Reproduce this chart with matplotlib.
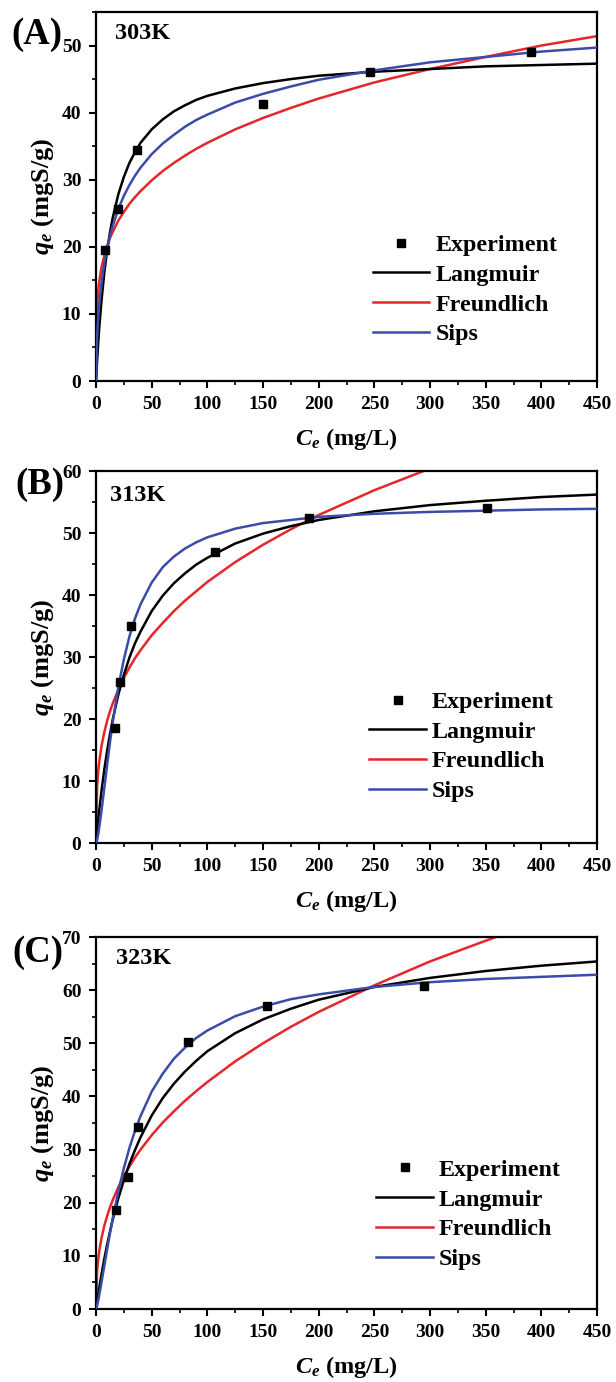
import matplotlib
matplotlib.use("Agg")
import matplotlib.pyplot as plt
from matplotlib.lines import Line2D
from matplotlib.ticker import MultipleLocator

plt.rcParams['font.family'] = ['Liberation Serif', 'DejaVu Serif']
plt.rcParams['font.weight'] = 'bold'
plt.rcParams['mathtext.fontset'] = 'custom'
plt.rcParams['mathtext.rm'] = 'Liberation Serif:bold'
plt.rcParams['mathtext.it'] = 'Liberation Serif:italic:bold'
plt.rcParams['mathtext.bf'] = 'Liberation Serif:bold'

# ---------------- data ----------------
panels = ['(A)', '(B)', '(C)']
temps = ['303K', '313K', '323K']
y_max = [55, 60, 70]
series_names = ['Experiment', 'Langmuir', 'Freundlich', 'Sips']

# Experimental points
exp_x_A = [8.5, 20.2, 37.0, 150.0, 246.0, 390.5]
exp_y_A = [19.6, 25.7, 34.4, 41.3, 46.0, 49.0]
exp_x_B = [17.0, 21.8, 31.5, 107.2, 191.7, 351.0]
exp_y_B = [18.5, 25.9, 35.0, 46.9, 52.4, 54.1]
exp_x_C = [17.8, 28.5, 37.5, 82.7, 154.0, 294.6]
exp_y_C = [18.6, 24.9, 34.2, 50.3, 57.0, 60.8]

# Fitted curves
curve_x = [0, 1, 2, 3, 5, 7.5, 10, 12.5, 15, 20, 25, 30, 35, 40, 50, 60, 70, 80, 90,
           100, 125, 150, 175, 200, 250, 300, 350, 400, 450]

lang_A = [0, 3.0, 5.7, 8.1, 12.1, 16.2, 19.4, 22.1, 24.3, 27.8, 30.4, 32.5, 34.1, 35.5,
          37.5, 39.0, 40.2, 41.1, 41.9, 42.5, 43.6, 44.4, 45.0, 45.5, 46.1, 46.5, 46.9, 47.1, 47.3]
freu_A = [0, 11.4, 13.5, 14.9, 17.0, 18.7, 20.1, 21.3, 22.2, 23.9, 25.2, 26.4, 27.4, 28.3,
          29.9, 31.3, 32.5, 33.6, 34.6, 35.5, 37.5, 39.2, 40.7, 42.1, 44.5, 46.5, 48.3, 50.0, 51.4]
sips_A = [0, 6.6, 9.5, 11.6, 14.7, 17.6, 19.8, 21.6, 23.1, 25.6, 27.6, 29.2, 30.6, 31.8,
          33.8, 35.4, 36.7, 37.9, 38.9, 39.7, 41.5, 42.8, 43.9, 44.9, 46.3, 47.5, 48.3, 49.1, 49.7]

lang_B = [0, 1.9, 3.7, 5.4, 8.5, 11.9, 14.9, 17.5, 19.9, 23.9, 27.1, 29.9, 32.2, 34.1,
          37.4, 39.9, 41.9, 43.5, 44.9, 46.0, 48.3, 49.9, 51.1, 52.1, 53.5, 54.5, 55.2, 55.8, 56.2]
freu_B = [0, 9.2, 11.6, 13.2, 15.7, 17.9, 19.7, 21.2, 22.5, 24.7, 26.6, 28.3, 29.8, 31.1,
          33.5, 35.5, 37.4, 39.1, 40.6, 42.1, 45.3, 48.1, 50.6, 52.9, 56.9, 60.4, 63.6, 66.6, 69.3]
sips_B = [0, 0.5, 1.4, 2.6, 5.3, 8.9, 12.6, 16.2, 19.4, 25.1, 29.6, 33.3, 36.2, 38.5,
          42.0, 44.5, 46.2, 47.5, 48.5, 49.3, 50.7, 51.6, 52.1, 52.6, 53.1, 53.4, 53.6, 53.8, 53.9]

lang_C = [0, 1.4, 2.8, 4.1, 6.6, 9.5, 12.1, 14.5, 16.8, 20.8, 24.2, 27.3, 29.9, 32.3,
          36.4, 39.7, 42.4, 44.7, 46.7, 48.5, 51.9, 54.5, 56.5, 58.2, 60.6, 62.3, 63.6, 64.6, 65.4]
freu_C = [0, 7.2, 9.4, 11.0, 13.4, 15.7, 17.5, 19.1, 20.5, 22.9, 25.0, 26.8, 28.5, 30.0,
          32.7, 35.1, 37.2, 39.2, 41.0, 42.7, 46.6, 50.0, 53.1, 55.9, 60.9, 65.4, 69.3, 73.1, 76.3]
sips_C = [0, 0.7, 1.6, 2.7, 5.1, 8.2, 11.2, 14.2, 17.0, 22.1, 26.5, 30.3, 33.5, 36.3,
          40.9, 44.3, 47.1, 49.2, 51.0, 52.4, 55.1, 56.9, 58.3, 59.2, 60.6, 61.5, 62.1, 62.5, 62.9]

exp_x = [exp_x_A, exp_x_B, exp_x_C]
exp_y = [exp_y_A, exp_y_B, exp_y_C]
lang = [lang_A, lang_B, lang_C]
freu = [freu_A, freu_B, freu_C]
sips = [sips_A, sips_B, sips_C]

RED = '#e5262a'
BLUE = '#3b4ca8'
LW = 1.8

# ---------------- layout ----------------
W, H = 616, 1382
fig = plt.figure(figsize=(W / 100, H / 100), dpi=100)

boxes = [(12, 381), (471, 843), (937, 1309)]          # (top, bottom) pixel rows
left_px, right_px = 96, 597
panel_lab_pos = [(37, 34), (40, 485), (38, 953)]
temp_pos = [(0.038, 0.943), (0.027, 0.935), (0.039, 0.941)]
leg_pos = [(0.552, 0.247), (0.545, 0.259), (0.559, 0.254)]

for i in range(3):
    top, bot = boxes[i]
    ax = fig.add_axes([left_px / W, 1 - bot / H, (right_px - left_px) / W, (bot - top) / H])

    ax.plot(curve_x, lang[i], color='black', lw=LW, zorder=3)
    ax.plot(curve_x, freu[i], color=RED, lw=LW, zorder=2)
    ax.plot(curve_x, sips[i], color=BLUE, lw=LW, zorder=4)
    ax.plot(exp_x[i], exp_y[i], ls='none', marker='s', ms=5.5, color='black', zorder=5)

    ax.set_xlim(0, 450)
    ax.set_ylim(0, y_max[i])
    ax.xaxis.set_major_locator(MultipleLocator(50))
    ax.xaxis.set_minor_locator(MultipleLocator(25))
    ax.yaxis.set_major_locator(MultipleLocator(10))
    ax.yaxis.set_minor_locator(MultipleLocator(5))
    ax.tick_params(which='major', direction='out', length=5, width=1.5,
                   labelsize=14, pad=5.5, top=False, right=False)
    ax.tick_params(which='minor', direction='out', length=3, width=1.2,
                   top=False, right=False)
    for lab in ax.get_xticklabels() + ax.get_yticklabels():
        lab.set_fontweight('bold')
    for s in ax.spines.values():
        s.set_linewidth(1.6)

    ax.set_xlabel(r'$C_e$ (mg/L)', fontsize=17.5, fontweight='bold', labelpad=10)
    ax.set_ylabel(r'$q_e$ (mgS/g)', fontsize=19, fontweight='bold', labelpad=4)

    ax.text(temp_pos[i][0], temp_pos[i][1], temps[i], transform=ax.transAxes,
            fontsize=17.5, fontweight='bold', ha='left', va='center')

    px, py = panel_lab_pos[i]
    fig.text(px / W, 1 - py / H, panels[i], fontsize=26.5, fontweight='bold',
             ha='center', va='center')

    handles = [
        Line2D([], [], ls='none', marker='s', ms=5.5, color='black'),
        Line2D([], [], color='black', lw=LW),
        Line2D([], [], color=RED, lw=LW),
        Line2D([], [], color=BLUE, lw=LW),
    ]
    ax.legend(handles, series_names, loc='center left', bbox_to_anchor=leg_pos[i],
              frameon=False, borderpad=0, borderaxespad=0, handlelength=2.37,
              handletextpad=0.25, labelspacing=0.33,
              prop={'size': 17.3, 'weight': 'bold'})

fig.savefig('out.png', dpi=100)
